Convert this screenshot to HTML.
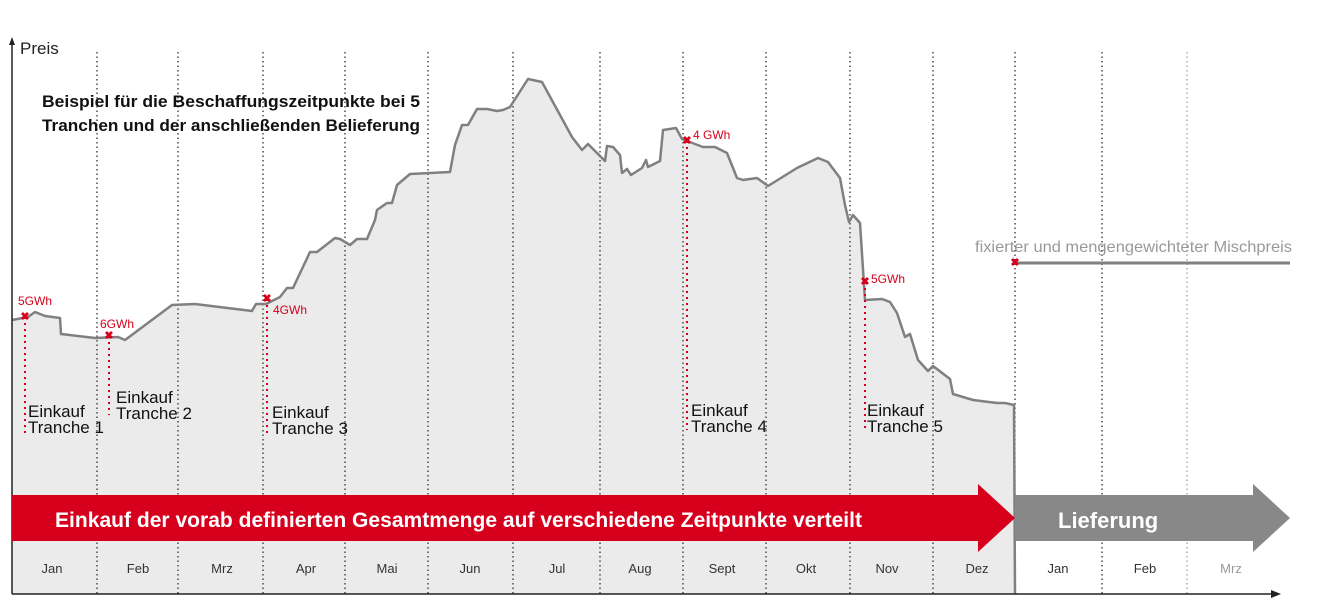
<!DOCTYPE html>
<html><head><meta charset="utf-8"><style>
html,body{margin:0;padding:0;background:#fff;}
svg{display:block;font-family:"Liberation Sans",sans-serif;}
</style></head><body>
<svg width="1321" height="610" viewBox="0 0 1321 610" xmlns="http://www.w3.org/2000/svg">
<polygon fill="#ebebeb" points="12,320 28,317 35,312 45,316 60,318 61,334 95,338 118,337 125,340 172,305 195,304 252,311 256,304 266,304 280,297 287,288 293,288 310,252 317,252 335,238 340,239 350,245 357,239 367,239 375,220 377,210 387,203 392,203 397,185 410,174 450,172 455,145 462,125 468,125 477,109 487,109 497,111 503,110 510,107 528,79 542,82 572,137 582,150 588,144 605,161 607,146 613,147 620,155 622,173 627,169 631,175 642,168 646,160 648,167 660,161 663,130 676,128 682,139 687,141 703,147 715,147 727,153 737,178 743,180 757,178 768,186 797,168 818,158 828,162 840,178 845,205 849,222 853,215 860,223 865,300 882,299 890,302 897,313 905,337 910,334 918,360 928,371 933,366 950,379 953,394 973,400 997,403 1005,403 1014,405 1015,594 12,594"/>
<g stroke="#222" stroke-width="1.2" stroke-dasharray="1.5 3">
<line x1="97" y1="52" x2="97" y2="594"/><line x1="178" y1="52" x2="178" y2="594"/>
<line x1="263" y1="52" x2="263" y2="594"/><line x1="345" y1="52" x2="345" y2="594"/>
<line x1="428" y1="52" x2="428" y2="594"/><line x1="513" y1="52" x2="513" y2="594"/>
<line x1="600" y1="52" x2="600" y2="594"/><line x1="683" y1="52" x2="683" y2="594"/>
<line x1="766" y1="52" x2="766" y2="594"/><line x1="850" y1="52" x2="850" y2="594"/>
<line x1="933" y1="52" x2="933" y2="594"/><line x1="1015" y1="52" x2="1015" y2="594"/>
<line x1="1102" y1="52" x2="1102" y2="594"/>
<line x1="1187" y1="52" x2="1187" y2="594" stroke="#999"/>
</g>
<polyline fill="none" stroke="#808080" stroke-width="2.5" stroke-linejoin="round" points="12,320 28,317 35,312 45,316 60,318 61,334 95,338 118,337 125,340 172,305 195,304 252,311 256,304 266,304 280,297 287,288 293,288 310,252 317,252 335,238 340,239 350,245 357,239 367,239 375,220 377,210 387,203 392,203 397,185 410,174 450,172 455,145 462,125 468,125 477,109 487,109 497,111 503,110 510,107 528,79 542,82 572,137 582,150 588,144 605,161 607,146 613,147 620,155 622,173 627,169 631,175 642,168 646,160 648,167 660,161 663,130 676,128 682,139 687,141 703,147 715,147 727,153 737,178 743,180 757,178 768,186 797,168 818,158 828,162 840,178 845,205 849,222 853,215 860,223 865,300 882,299 890,302 897,313 905,337 910,334 918,360 928,371 933,366 950,379 953,394 973,400 997,403 1005,403 1014,405 1015,594"/>
<line x1="1015" y1="263" x2="1290" y2="263" stroke="#808080" stroke-width="3"/>
<g stroke="#d6001c" stroke-width="2" stroke-dasharray="2 4">
<line x1="25" y1="317" x2="25" y2="436"/><line x1="109" y1="336" x2="109" y2="415"/>
<line x1="267" y1="299" x2="267" y2="437"/><line x1="687" y1="141" x2="687" y2="430"/>
<line x1="865" y1="282" x2="865" y2="430"/>
</g>
<g fill="#d6001c" font-size="12">
<text x="25" y="317" text-anchor="middle" dominant-baseline="central" font-size="11" font-weight="bold">✖</text>
<text x="109" y="336" text-anchor="middle" dominant-baseline="central" font-size="11" font-weight="bold">✖</text>
<text x="267" y="299" text-anchor="middle" dominant-baseline="central" font-size="11" font-weight="bold">✖</text>
<text x="687" y="141" text-anchor="middle" dominant-baseline="central" font-size="11" font-weight="bold">✖</text>
<text x="865" y="282" text-anchor="middle" dominant-baseline="central" font-size="11" font-weight="bold">✖</text>
<text x="1015" y="263" text-anchor="middle" dominant-baseline="central" font-size="11" font-weight="bold">✖</text>
<text x="18" y="305">5GWh</text>
<text x="100" y="328">6GWh</text>
<text x="273" y="314">4GWh</text>
<text x="693" y="139">4 GWh</text>
<text x="871" y="283">5GWh</text>
</g>
<line x1="12" y1="42" x2="12" y2="594" stroke="#222" stroke-width="1.5"/>
<polygon points="12,37 9,45 15,45" fill="#222"/>
<line x1="12" y1="594" x2="1274" y2="594" stroke="#222" stroke-width="1.5"/>
<polygon points="1281,594 1271,590 1271,598" fill="#222"/>
<text x="20" y="54" font-size="17" fill="#222">Preis</text>
<g font-size="17" font-weight="bold" fill="#111">
<text x="42" y="107" textLength="378" lengthAdjust="spacingAndGlyphs">Beispiel für die Beschaffungszeitpunkte bei 5</text>
<text x="42" y="131" textLength="378" lengthAdjust="spacingAndGlyphs">Tranchen und der anschließenden Belieferung</text>
</g>
<g font-size="17" fill="#111">
<text x="28" y="417">Einkauf</text><text x="28" y="433">Tranche 1</text>
<text x="116" y="403">Einkauf</text><text x="116" y="419">Tranche 2</text>
<text x="272" y="418">Einkauf</text><text x="272" y="434">Tranche 3</text>
<text x="691" y="416">Einkauf</text><text x="691" y="432">Tranche 4</text>
<text x="867" y="416">Einkauf</text><text x="867" y="432">Tranche 5</text>
</g>
<text x="975" y="252" font-size="16" fill="#999" textLength="317" lengthAdjust="spacingAndGlyphs">fixierter und mengengewichteter Mischpreis</text>
<polygon fill="#d6001c" points="12,495 978,495 978,484 1015,518 978,552 978,541 12,541"/>
<polygon fill="#888" points="1015,495 1253,495 1253,484 1290,518 1253,552 1253,541 1015,541"/>
<text x="55" y="527" font-size="21" font-weight="bold" fill="#fff" textLength="807" lengthAdjust="spacingAndGlyphs">Einkauf der vorab definierten Gesamtmenge auf verschiedene Zeitpunkte verteilt</text>
<text x="1058" y="528" font-size="22" font-weight="bold" fill="#fff">Lieferung</text>
<g font-size="13" fill="#333" text-anchor="middle">
<text x="52" y="573">Jan</text><text x="138" y="573">Feb</text><text x="222" y="573">Mrz</text>
<text x="306" y="573">Apr</text><text x="387" y="573">Mai</text><text x="470" y="573">Jun</text>
<text x="557" y="573">Jul</text><text x="640" y="573">Aug</text><text x="722" y="573">Sept</text>
<text x="806" y="573">Okt</text><text x="887" y="573">Nov</text><text x="977" y="573">Dez</text>
<text x="1058" y="573">Jan</text><text x="1145" y="573">Feb</text>
<text x="1231" y="573" fill="#999">Mrz</text>
</g>
</svg>
</body></html>
